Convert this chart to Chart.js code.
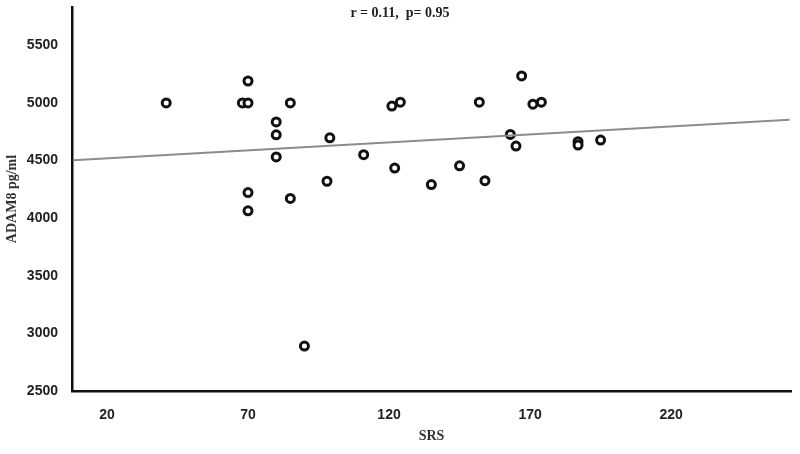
<!DOCTYPE html>
<html lang="en">
<head>
  <meta charset="UTF-8">
  <title>ADAM8 vs SRS</title>
  <script src="https://cdn.jsdelivr.net/npm/chart.js"></script>
  <style>
    body {
      margin: 0;
      background: #fff;
    }

    #wrap {
      width: 800px;
      height: 454px;
    }
  </style>
</head>
<body>

<div id="wrap"><canvas id="scatter" width="800" height="454"></canvas></div>

<script>
  // SRS scores (x) and ADAM8 levels (y)
  const srs = [41, 68, 70, 70, 85, 80, 80, 80, 99, 98, 70, 70, 85, 90,
               111, 121, 124, 122, 135, 145, 152, 154, 167, 163, 165,
               171, 174, 187, 187, 195];
  const adam8 = [5000, 5000, 5000, 5190, 5000, 4835, 4723, 4531, 4697, 4320, 4222, 4063, 4171, 2890,
                 4551, 4972, 5006, 4434, 4291, 4454, 5006, 4325, 5234, 4726, 4625,
                 4989, 5006, 4663, 4634, 4677];

  // fit line ends, at the axis limits
  const fitX = [8, 262];
  const fitY = [4503, 4854];

  const xTicks = [20, 70, 120, 170, 220];
  const yTicks = [2500, 3000, 3500, 4000, 4500, 5000, 5500];

  const statsText = 'r = 0.11,  p= 0.95';

  const tickFont = { family: 'Liberation Sans', size: 14, weight: 'bold' };
  const titleFont = { family: 'Liberation Serif', size: 14, weight: 'bold' };

  const statsLabel = {
    id: 'statsLabel',
    afterDraw(chart) {
      const c = chart.ctx;
      c.save();
      c.font = 'bold 14px "Liberation Serif"';
      c.fillStyle = '#222';
      c.textAlign = 'center';
      c.textBaseline = 'middle';
      c.fillText(statsText, 400, 13);
      c.restore();
    }
  };

  const ctx = document.getElementById('scatter').getContext('2d');
  const chart = new Chart(ctx, {
    type: 'scatter',
    data: {
      datasets: [{
        label: 'Fit',
        type: 'line',
        data: fitX.map((x, i) => ({ x: x, y: fitY[i] })),
        borderColor: '#8c8c8c',
        borderWidth: 2,
        pointRadius: 0,
        fill: false
      }, {
        label: 'Subjects',
        data: srs.map((x, i) => ({ x: x, y: adam8[i] })),
        pointRadius: 4,
        borderWidth: 3,
        borderColor: '#111',
        backgroundColor: '#fff'
      }]
    },
    options: {
      responsive: false,
      animation: false,
      layout: { padding: { top: 3, right: 9, left: 0, bottom: 0 } },
      plugins: {
        legend: { display: false },
        tooltip: { enabled: false }
      },
      scales: {
        x: {
          type: 'linear',
          min: 7.6,
          max: 262.5,
          grid: { display: false },
          border: { display: true, color: '#111', width: 2.5 },
          afterBuildTicks: s => { s.ticks = xTicks.map(v => ({ value: v })); },
          afterFit: s => { s.height = 63; s.paddingRight = 0; s.paddingLeft = 0; },
          ticks: { font: tickFont, color: '#222', padding: 8, maxRotation: 0 },
          title: { display: true, text: 'SRS', font: titleFont, color: '#333', padding: { top: 0, bottom: 9 } }
        },
        y: {
          min: 2500,
          max: 5832,
          grid: { display: false },
          border: { display: true, color: '#111', width: 2.5 },
          afterBuildTicks: s => { s.ticks = yTicks.map(v => ({ value: v })); },
          afterFit: s => { s.width = 72; s.paddingTop = 0; s.paddingBottom = 0; },
          ticks: { font: tickFont, color: '#222', padding: 6, callback: v => String(v) },
          title: { display: true, text: 'ADAM8 pg/ml', font: titleFont, color: '#333', padding: { top: 4, bottom: 0 } }
        }
      }
    },
    plugins: [statsLabel]
  });
</script>

</body>
</html>
